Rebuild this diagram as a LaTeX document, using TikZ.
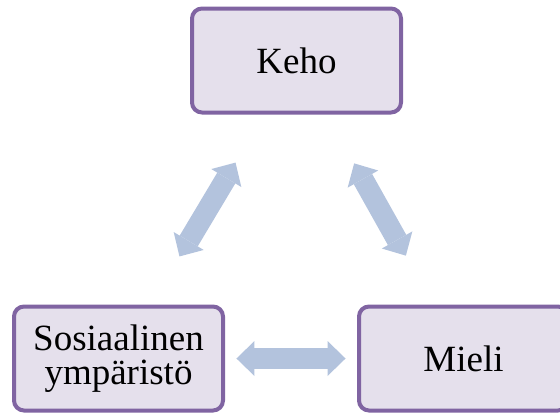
\documentclass[tikz,border=0pt]{standalone}
\usepackage{fontspec}
\setmainfont{Liberation Serif}
\usetikzlibrary{arrows.meta}

\definecolor{boxfill}{HTML}{E5E0EC}
\definecolor{boxline}{HTML}{8064A2}
\definecolor{arrowfill}{HTML}{B3C3DD}

\tikzset{every picture/.style={line width=0.75pt}}
\tikzset{
	kehys/.style={draw=boxline, fill=boxfill, line width=3pt, rounded corners=7.5pt,
		minimum width=156.75pt, minimum height=78pt, inner sep=0.75pt, align=center,
		font=\fontsize{27.75}{25.5}\selectfont},
	nuoli/.style={draw=arrowfill, line width=15.75pt,
		{Triangle[width=26.25pt,length=13.5pt,line width=0pt]}-{Triangle[width=26.25pt,length=13.5pt,line width=0pt]}}
}

\begin{document}
\begin{tikzpicture}[x=0.75pt,y=0.75pt,yscale=-1,xscale=1]
	%set diagram left start at 0, and has height of 412
	\useasboundingbox (0,0) rectangle (560,412);
	
	%Shape: Rounded Rect [id:keho]
	\node [kehys] (keho) at (296.5,60.5) {Keho};
	%Shape: Rounded Rect [id:sosiaali]
	\node [kehys] (sosiaali) at (118.5,358.5) {Sosiaalinen\\ympäristö};
	%Shape: Rounded Rect [id:mieli]
	\node [kehys] (mieli) at (463.5,358.5) {Mieli};
	
	%Double Arrow [id:keho-sosiaali]
	\draw [nuoli, shorten <=42pt, shorten >=42pt] (keho) -- (sosiaali);
	%Double Arrow [id:keho-mieli]
	\draw [nuoli, shorten <=42pt, shorten >=42pt] (keho) -- (mieli);
	%Double Arrow [id:sosiaali-mieli]
	\draw [nuoli, shorten <=8.6pt, shorten >=8.6pt] (sosiaali) -- (mieli);
	
\end{tikzpicture}
\end{document}
